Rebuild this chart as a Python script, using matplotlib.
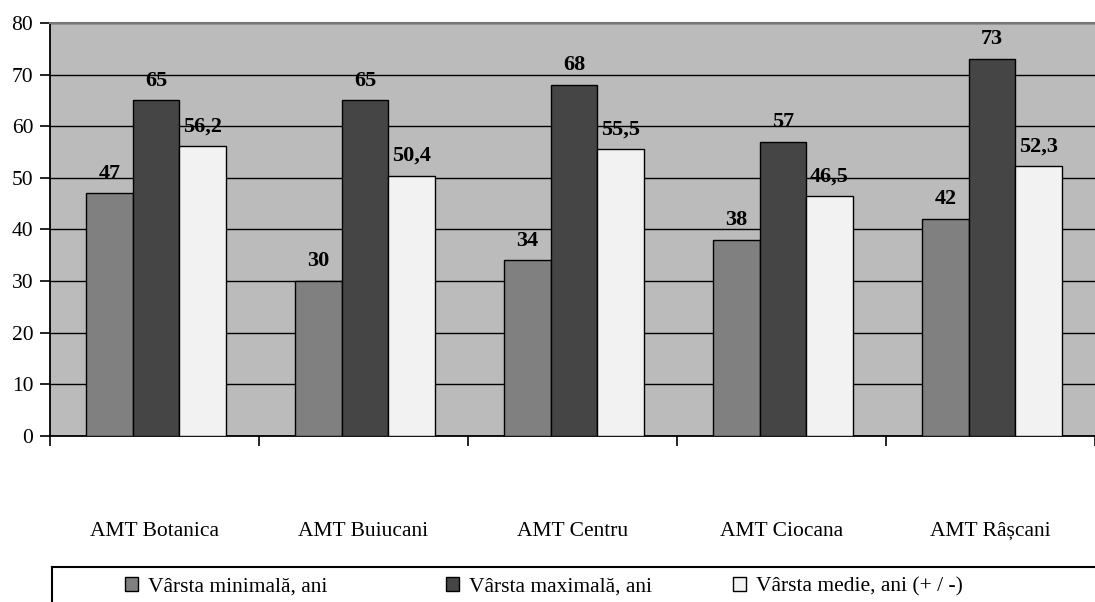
import matplotlib.pyplot as plt
import numpy as np
from matplotlib.patches import Patch
from matplotlib.lines import Line2D

plt.rcParams['font.family'] = ['Liberation Serif', 'DejaVu Serif']

categories = ['AMT Botanica', 'AMT Buiucani', 'AMT Centru', 'AMT Ciocana', 'AMT Râșcani']
varsta_min = [47, 30, 34, 38, 42]
varsta_max = [65, 65, 68, 57, 73]
varsta_medie = [56.2, 50.4, 55.5, 46.5, 52.3]
series_names = ['Vârsta minimală, ani', 'Vârsta maximală, ani', 'Vârsta medie, ani (+ / -)']
colors = ['#808080', '#454545', '#F2F2F2']

fig = plt.figure(figsize=(10.95, 6.02), dpi=100)
ax = fig.add_axes([50 / 1095, 1 - 436 / 602, 1 - 50 / 1095, (436 - 23) / 602])
ax.set_facecolor('#BBBBBB')

x = np.arange(len(categories)) + 0.5
w = 0.222
series = [varsta_min, varsta_max, varsta_medie]
for i, (vals, c) in enumerate(zip(series, colors)):
    pos = x + (i - 1) * w + 0.007
    bars = ax.bar(pos, vals, width=w, color=c, edgecolor='black', linewidth=1, zorder=3)
    for b, v in zip(bars, vals):
        lbl = f'{v:g}'.replace('.', ',')
        ax.annotate(lbl, (b.get_x() + b.get_width() / 2, v), xytext=(0, 7),
                    textcoords='offset points', ha='center', va='bottom',
                    fontsize=16, fontweight='bold', zorder=4)

ax.set_xlim(0, len(categories))
ax.set_ylim(0, 80)
ax.set_yticks(range(0, 81, 10))
ax.yaxis.grid(True, color='black', linewidth=1, zorder=0)
ax.set_axisbelow(True)

ax.set_xticks(x)
ax.set_xticklabels(categories)
ax.set_xticks(np.arange(len(categories) + 1), minor=True)
ax.tick_params(axis='x', which='major', length=0, pad=62, labelsize=15.5)
ax.tick_params(axis='x', which='minor', length=7, width=1.2, direction='out')
ax.tick_params(axis='y', length=7, width=1.2, pad=5, labelsize=15.5)

ax.spines['left'].set_linewidth(1.3)
ax.spines['bottom'].set_linewidth(1.3)
ax.spines['top'].set_color('#777777')
ax.spines['top'].set_linewidth(1.5)
ax.spines['right'].set_visible(False)

# legend box (top and left border visible)
ly = 1 - 567 / 602
lx = 52 / 1095
fig.add_artist(Line2D([lx, 1], [ly, ly], color='black', linewidth=1.5, transform=fig.transFigure))
fig.add_artist(Line2D([lx, lx], [ly, 0], color='black', linewidth=1.5, transform=fig.transFigure))

starts = [125, 446, 733]
for name, c, sx in zip(series_names, colors, starts):
    h = Patch(facecolor=c, edgecolor='black', linewidth=1)
    fig.legend(handles=[h], labels=[name], loc='center left',
               bbox_to_anchor=(sx / 1095, 1 - 587 / 602), frameon=False,
               fontsize=15.5, handlelength=0.6, handleheight=0.6, handletextpad=0.45,
               borderpad=0, borderaxespad=0)

fig.savefig('out.png', dpi=100)
